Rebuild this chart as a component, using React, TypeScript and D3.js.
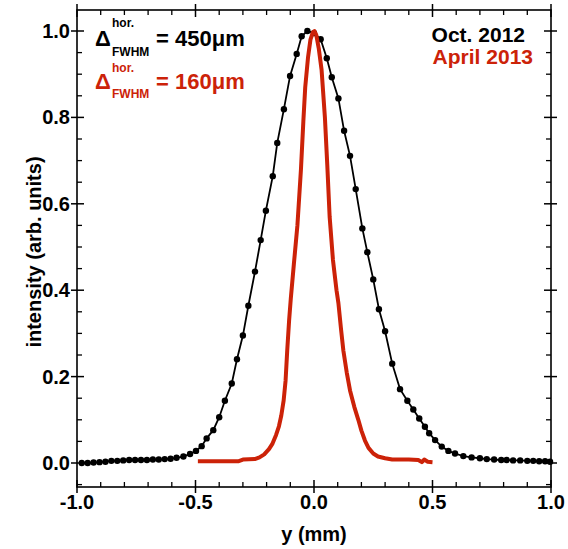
import React from "react";
import * as d3 from "d3";

const blackX = [-0.98,-0.955,-0.93,-0.905,-0.88,-0.855,-0.83,-0.805,-0.78,-0.755,-0.73,-0.705,-0.68,-0.655,-0.63,-0.605,-0.58,-0.551,-0.523,-0.498,-0.474,-0.453,-0.425,-0.4,-0.376,-0.347,-0.325,-0.3,-0.277,-0.249,-0.225,-0.203,-0.174,-0.155,-0.127,-0.101,-0.073,-0.052,-0.028,0.0,0.028,0.054,0.075,0.103,0.127,0.152,0.176,0.204,0.225,0.25,0.274,0.3,0.33,0.363,0.394,0.419,0.444,0.468,0.486,0.511,0.539,0.567,0.595,0.63,0.665,0.7,0.729,0.76,0.79,0.813,0.84,0.87,0.9,0.925,0.95,0.975,0.996];
const blackY = [0.0,0.0,0.001,0.002,0.003,0.005,0.005,0.006,0.007,0.007,0.007,0.007,0.008,0.008,0.009,0.01,0.012,0.015,0.021,0.028,0.039,0.057,0.076,0.106,0.144,0.184,0.24,0.295,0.364,0.443,0.516,0.584,0.664,0.741,0.819,0.896,0.947,0.988,1.0,0.995,0.981,0.937,0.893,0.844,0.769,0.711,0.634,0.543,0.488,0.425,0.356,0.305,0.23,0.171,0.144,0.124,0.103,0.084,0.069,0.053,0.038,0.028,0.022,0.016,0.013,0.011,0.009,0.008,0.007,0.007,0.006,0.006,0.005,0.005,0.004,0.004,0.003];

const redX = [-0.49,-0.4,-0.32,-0.3,-0.25,-0.23,-0.21,-0.19,-0.175,-0.16,-0.148,-0.138,-0.128,-0.12,-0.113,-0.105,-0.098,-0.085,-0.07,-0.055,-0.045,-0.037,-0.025,-0.015,-0.005,0.002,0.01,0.02,0.032,0.046,0.056,0.066,0.08,0.095,0.103,0.114,0.124,0.138,0.152,0.17,0.187,0.2,0.215,0.23,0.25,0.27,0.3,0.33,0.4,0.44,0.455,0.465,0.48,0.5];
const redY = [0.004,0.004,0.004,0.008,0.009,0.013,0.02,0.032,0.045,0.065,0.085,0.11,0.145,0.19,0.26,0.33,0.38,0.46,0.55,0.68,0.79,0.87,0.94,0.98,0.997,1.0,0.99,0.96,0.91,0.8,0.69,0.57,0.47,0.4,0.37,0.31,0.26,0.21,0.168,0.13,0.1,0.075,0.052,0.035,0.022,0.015,0.011,0.008,0.008,0.007,0.002,0.008,0.003,0.002];

const xMajor = [-1.0, -0.5, 0.0, 0.5, 1.0];
const yMajor = [0.0, 0.2, 0.4, 0.6, 0.8, 1.0];

const RED = "#cc2208";
const FONT = "'Liberation Sans', Arial, Helvetica, sans-serif";

export default function App() {
  const W = 568, H = 549;
  const L = 77, R = 551, T = 10, B = 487;
  const x = d3.scaleLinear().domain([-1, 1]).range([L, R]);
  const y = d3.scaleLinear().domain([0, 1]).range([463, 31]);

  const blackPts = blackX.map((v, i) => [v, blackY[i]] as [number, number]);
  const redPts = redX.map((v, i) => [v, redY[i]] as [number, number]);
  const line = d3.line<[number, number]>().x(d => x(d[0])).y(d => y(d[1]));

  const xMinor = d3.range(-10, 11).map(i => i / 10).filter(v => Math.abs(v * 2 - Math.round(v * 2)) > 1e-6);
  const yMinorAll: number[] = [];
  for (let v = -0.05; v <= 1.05 + 1e-9; v += 0.05) {
    const r = Math.round(v * 100) / 100;
    if (Math.abs(r * 5 - Math.round(r * 5)) > 1e-6) yMinorAll.push(r);
  }
  const yMinor = yMinorAll.filter(v => y(v) > T + 1 && y(v) < B - 1);

  return (
    <svg width={W} height={H} style={{ position: "absolute", left: 0, top: 0, background: "#fff" }} fontFamily={FONT}>
      <rect x={0} y={0} width={W} height={H} fill="#fff" />
      <rect x={L} y={T} width={R - L} height={B - T} fill="none" stroke="#000" strokeWidth={1.6} />
      {xMajor.map(v => (
        <g key={"xm" + v}>
          <line x1={x(v)} x2={x(v)} y1={B + 6} y2={B - 7} stroke="#000" strokeWidth={1.5} />
          <line x1={x(v)} x2={x(v)} y1={T - 6} y2={T + 7} stroke="#000" strokeWidth={1.5} />
          <text x={x(v)} y={B + 22} textAnchor="middle" fontSize={20} fontWeight="bold">{v.toFixed(1)}</text>
        </g>
      ))}
      {xMinor.map(v => (
        <g key={"xn" + v}>
          <line x1={x(v)} x2={x(v)} y1={B} y2={B - 5} stroke="#000" strokeWidth={1.3} />
          <line x1={x(v)} x2={x(v)} y1={T} y2={T + 5} stroke="#000" strokeWidth={1.3} />
        </g>
      ))}
      {yMajor.map(v => (
        <g key={"ym" + v}>
          <line x1={L - 6} x2={L + 7} y1={y(v)} y2={y(v)} stroke="#000" strokeWidth={1.5} />
          <line x1={R + 6} x2={R - 7} y1={y(v)} y2={y(v)} stroke="#000" strokeWidth={1.5} />
          <text x={L - 7} y={y(v) + 7} textAnchor="end" fontSize={20} fontWeight="bold">{v.toFixed(1)}</text>
        </g>
      ))}
      {yMinor.map(v => (
        <g key={"yn" + v}>
          <line x1={L} x2={L + 5} y1={y(v)} y2={y(v)} stroke="#000" strokeWidth={1.3} />
          <line x1={R} x2={R - 5} y1={y(v)} y2={y(v)} stroke="#000" strokeWidth={1.3} />
        </g>
      ))}
      <text x={(L + R) / 2} y={541} textAnchor="middle" fontSize={20} fontWeight="bold">y (mm)</text>
      <text transform={`translate(41, 252) rotate(-90)`} textAnchor="middle" fontSize={20} fontWeight="bold">intensity (arb. units)</text>

      <path d={line(blackPts) || ""} fill="none" stroke="#000" strokeWidth={1.8} />
      {blackPts.map((p, i) => (
        <circle key={"b" + i} cx={x(p[0])} cy={y(p[1])} r={3.2} fill="#000" />
      ))}
      <path d={line(redPts) || ""} fill="none" stroke={RED} strokeWidth={4} strokeLinejoin="round" />

      <g fontWeight="bold">
        <text x={95} y={46} fontSize={22}>Δ</text>
        <text x={112} y={27} fontSize={12}>hor.</text>
        <text x={112} y={56} fontSize={12}>FWHM</text>
        <text x={156} y={46} fontSize={22}>= 450μm</text>
        <g fill={RED}>
          <text x={95} y={89} fontSize={22}>Δ</text>
          <text x={112} y={72} fontSize={12}>hor.</text>
          <text x={112} y={98} fontSize={12}>FWHM</text>
          <text x={156} y={89} fontSize={22}>= 160μm</text>
        </g>
        <text x={525} y={42} textAnchor="end" fontSize={21}>Oct. 2012</text>
        <text x={533} y={64} textAnchor="end" fontSize={21} fill={RED}>April 2013</text>
      </g>
    </svg>
  );
}
